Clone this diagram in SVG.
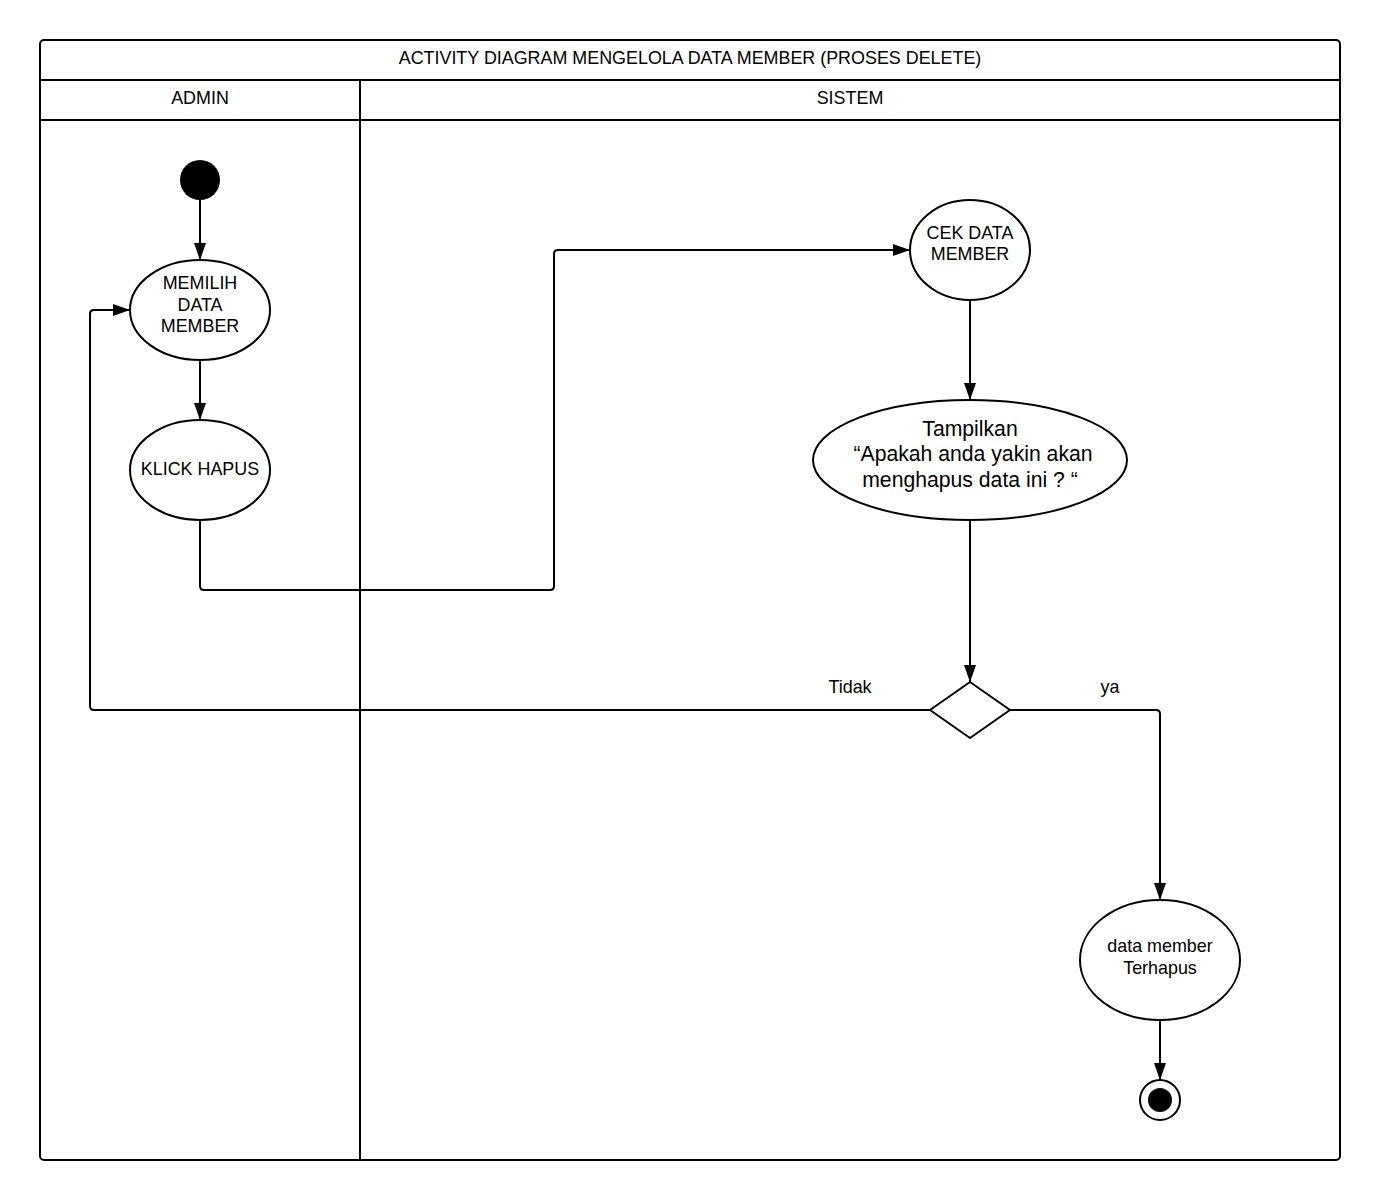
<svg xmlns="http://www.w3.org/2000/svg" width="1380" height="1200" viewBox="0 0 1380 1200">
  <style>
    .frame { fill: #ffffff; stroke: #000; stroke-width: 2; }
    .line { fill: none; stroke: #000; stroke-width: 2; }
    .node { fill: #ffffff; stroke: #000; stroke-width: 2; }
    .solid { fill: #000; }
    .t { font-family: "Liberation Sans", Arial, sans-serif; font-size: 17.9px; fill: #000; text-anchor: middle; }
    .big { font-size: 21.2px; }
  </style>
  <defs>
    <marker id="arrow" markerUnits="userSpaceOnUse" markerWidth="18" markerHeight="14" refX="17" refY="7" orient="auto">
      <path d="M0,1 L17,7 L0,13 Z" fill="#000"/>
    </marker>
  </defs>

  <rect width="1380" height="1200" fill="#ffffff"/>

  <!-- swimlane frame -->
  <g id="frame">
    <rect class="frame" x="40" y="40" width="1300" height="1120" rx="4"/>
    <line class="line" x1="40" y1="80" x2="1340" y2="80"/>
    <line class="line" x1="40" y1="120" x2="1340" y2="120"/>
    <line class="line" x1="360" y1="80" x2="360" y2="1160"/>
    <text class="t" x="690" y="64">ACTIVITY DIAGRAM MENGELOLA DATA MEMBER (PROSES DELETE)</text>
    <text class="t" x="200" y="104">ADMIN</text>
    <text class="t" x="850" y="104">SISTEM</text>
  </g>

  <!-- connectors -->
  <g id="connectors">
    <line class="line" x1="200" y1="200" x2="200" y2="260" marker-end="url(#arrow)"/>
    <line class="line" x1="200" y1="360" x2="200" y2="420" marker-end="url(#arrow)"/>
    <path class="line" d="M200,520 V586 Q200,590 204,590 H550 Q554,590 554,586 V254 Q554,250 558,250 H910" marker-end="url(#arrow)"/>
    <line class="line" x1="970" y1="300" x2="970" y2="400" marker-end="url(#arrow)"/>
    <line class="line" x1="970" y1="520" x2="970" y2="682" marker-end="url(#arrow)"/>
    <path class="line" d="M930,710 H94 Q90,710 90,706 V314 Q90,310 94,310 H130" marker-end="url(#arrow)"/>
    <path class="line" d="M1010,710 H1156 Q1160,710 1160,714 V900" marker-end="url(#arrow)"/>
    <line class="line" x1="1160" y1="1020" x2="1160" y2="1080" marker-end="url(#arrow)"/>
    <text class="t" x="850" y="693">Tidak</text>
    <text class="t" x="1110" y="693">ya</text>
  </g>

  <!-- nodes -->
  <g id="start">
    <circle class="solid" cx="200" cy="180" r="20"/>
  </g>

  <g id="memilih-data-member">
    <ellipse class="node" cx="200" cy="310" rx="70" ry="50"/>
    <text class="t" x="200" y="289">MEMILIH</text>
    <text class="t" x="200" y="311">DATA</text>
    <text class="t" x="200" y="332">MEMBER</text>
  </g>

  <g id="klick-hapus">
    <ellipse class="node" cx="200" cy="470" rx="70" ry="50"/>
    <text class="t" x="200" y="475">KLICK HAPUS</text>
  </g>

  <g id="cek-data-member">
    <ellipse class="node" cx="970" cy="250" rx="60" ry="50"/>
    <text class="t" x="970" y="239">CEK DATA</text>
    <text class="t" x="970" y="260">MEMBER</text>
  </g>

  <g id="tampilkan-konfirmasi">
    <ellipse class="node" cx="970" cy="460" rx="157" ry="60"/>
    <text class="t big" x="970" y="436">Tampilkan</text>
    <text class="t big" x="973" y="461">“Apakah anda yakin akan</text>
    <text class="t big" x="970" y="487">menghapus data ini ? “</text>
  </g>

  <g id="keputusan">
    <path class="node" d="M970,682 L1010,710 L970,738 L930,710 Z" stroke-linejoin="round"/>
  </g>

  <g id="data-member-terhapus">
    <ellipse class="node" cx="1160" cy="960" rx="80" ry="60"/>
    <text class="t" x="1160" y="952">data member</text>
    <text class="t" x="1160" y="974">Terhapus</text>
  </g>

  <g id="end">
    <circle class="node" cx="1160" cy="1100" r="20"/>
    <circle class="solid" cx="1160" cy="1100" r="12"/>
  </g>
</svg>
